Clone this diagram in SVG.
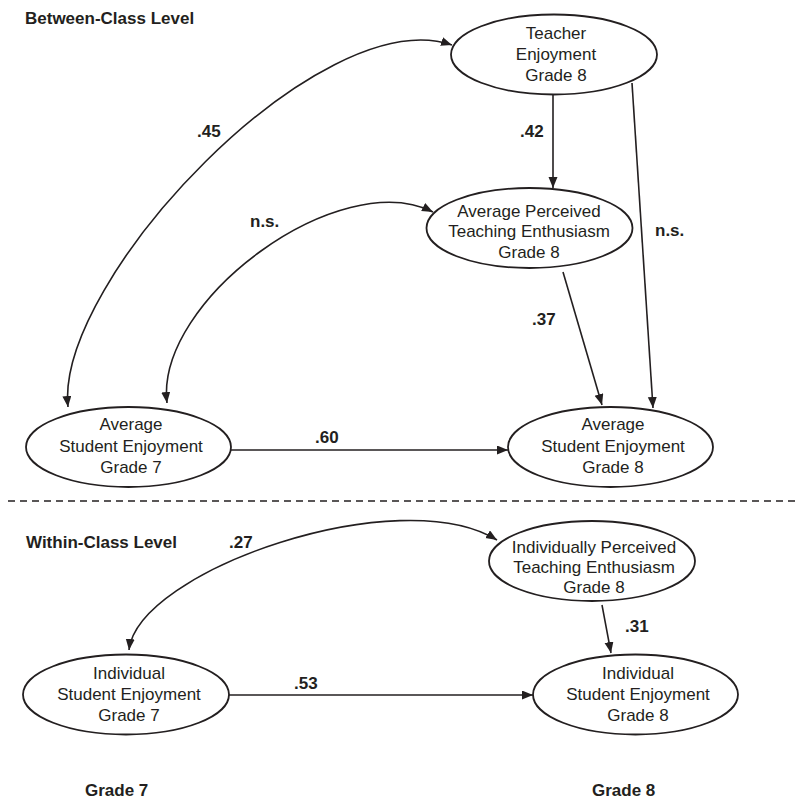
<svg xmlns="http://www.w3.org/2000/svg" width="802" height="801" viewBox="0 0 802 801">
<defs>
<style>
.node{fill:#fff;stroke:#231f20;stroke-width:1.8}
.nt{font-family:"Liberation Sans",Arial,sans-serif;font-size:17px;fill:#231f20;text-anchor:middle}
.lb{font-family:"Liberation Sans",Arial,sans-serif;font-size:17px;font-weight:bold;fill:#231f20}
.c{fill:none;stroke:#231f20;stroke-width:1.6}
</style>
<marker id="ah" markerUnits="userSpaceOnUse" markerWidth="12" markerHeight="10" refX="11" refY="4.5" orient="auto-start-reverse">
<path d="M0,0 L11,4.5 L0,9 z" fill="#231f20"/>
</marker>
</defs>
<rect width="802" height="801" fill="#fff"/>
<text class="lb" x="25" y="24">Between-Class Level</text>
<line x1="8" y1="501" x2="800" y2="501" stroke="#231f20" stroke-width="1.4" stroke-dasharray="7,5"/>
<text class="lb" x="26" y="548">Within-Class Level</text>
<text class="lb" x="85" y="796">Grade 7</text>
<text class="lb" x="592" y="796">Grade 8</text>
<g id="connectors">
<path class="c" d="M68,407 C55,280 320,0 452,45" marker-start="url(#ah)" marker-end="url(#ah)"/>
<path class="c" d="M167,403 C155,300 340,165 433,212" marker-start="url(#ah)" marker-end="url(#ah)"/>
<path class="c" d="M129,650 C138,570 400,480 497,540" marker-start="url(#ah)" marker-end="url(#ah)"/>
<line class="c" x1="553" y1="94" x2="553" y2="188" marker-end="url(#ah)"/>
<line class="c" x1="632" y1="83" x2="653" y2="408" marker-end="url(#ah)"/>
<line class="c" x1="563" y1="272" x2="602" y2="405" marker-end="url(#ah)"/>
<line class="c" x1="231" y1="450" x2="508" y2="450" marker-end="url(#ah)"/>
<line class="c" x1="602" y1="605" x2="611" y2="653" marker-end="url(#ah)"/>
<line class="c" x1="229" y1="695" x2="533" y2="695" marker-end="url(#ah)"/>
<text class="lb" x="197" y="137">.45</text>
<text class="lb" x="250" y="227">n.s.</text>
<text class="lb" x="520" y="137">.42</text>
<text class="lb" x="655" y="236">n.s.</text>
<text class="lb" x="532" y="325">.37</text>
<text class="lb" x="315" y="443">.60</text>
<text class="lb" x="229" y="548">.27</text>
<text class="lb" x="294" y="689">.53</text>
<text class="lb" x="625" y="632">.31</text>
</g>
<g id="teacher">
<ellipse class="node" cx="554" cy="54.5" rx="103" ry="40"/>
<text class="nt" x="556" y="39">Teacher</text>
<text class="nt" x="556" y="60">Enjoyment</text>
<text class="nt" x="556" y="81">Grade 8</text>
</g>
<g id="avgPerceived">
<ellipse class="node" cx="529.5" cy="228" rx="103" ry="40"/>
<text class="nt" x="529" y="217">Average Perceived</text>
<text class="nt" x="529" y="237">Teaching Enthusiasm</text>
<text class="nt" x="529" y="258">Grade 8</text>
</g>
<g id="avgG7">
<ellipse class="node" cx="128.5" cy="447" rx="102.5" ry="40"/>
<text class="nt" x="131" y="430">Average</text>
<text class="nt" x="131" y="452">Student Enjoyment</text>
<text class="nt" x="131" y="473">Grade 7</text>
</g>
<g id="avgG8">
<ellipse class="node" cx="610.5" cy="447" rx="102.5" ry="40"/>
<text class="nt" x="613" y="430">Average</text>
<text class="nt" x="613" y="452">Student Enjoyment</text>
<text class="nt" x="613" y="473">Grade 8</text>
</g>
<g id="indPerceived">
<ellipse class="node" cx="592" cy="561" rx="103" ry="40"/>
<text class="nt" x="594" y="553">Individually Perceived</text>
<text class="nt" x="594" y="573">Teaching Enthusiasm</text>
<text class="nt" x="594" y="593">Grade 8</text>
</g>
<g id="indG7">
<ellipse class="node" cx="126" cy="694.5" rx="103" ry="40"/>
<text class="nt" x="129" y="679">Individual</text>
<text class="nt" x="129" y="700">Student Enjoyment</text>
<text class="nt" x="129" y="721">Grade 7</text>
</g>
<g id="indG8">
<ellipse class="node" cx="635.5" cy="694.5" rx="102.5" ry="40"/>
<text class="nt" x="638" y="679">Individual</text>
<text class="nt" x="638" y="700">Student Enjoyment</text>
<text class="nt" x="638" y="721">Grade 8</text>
</g>
</svg>
